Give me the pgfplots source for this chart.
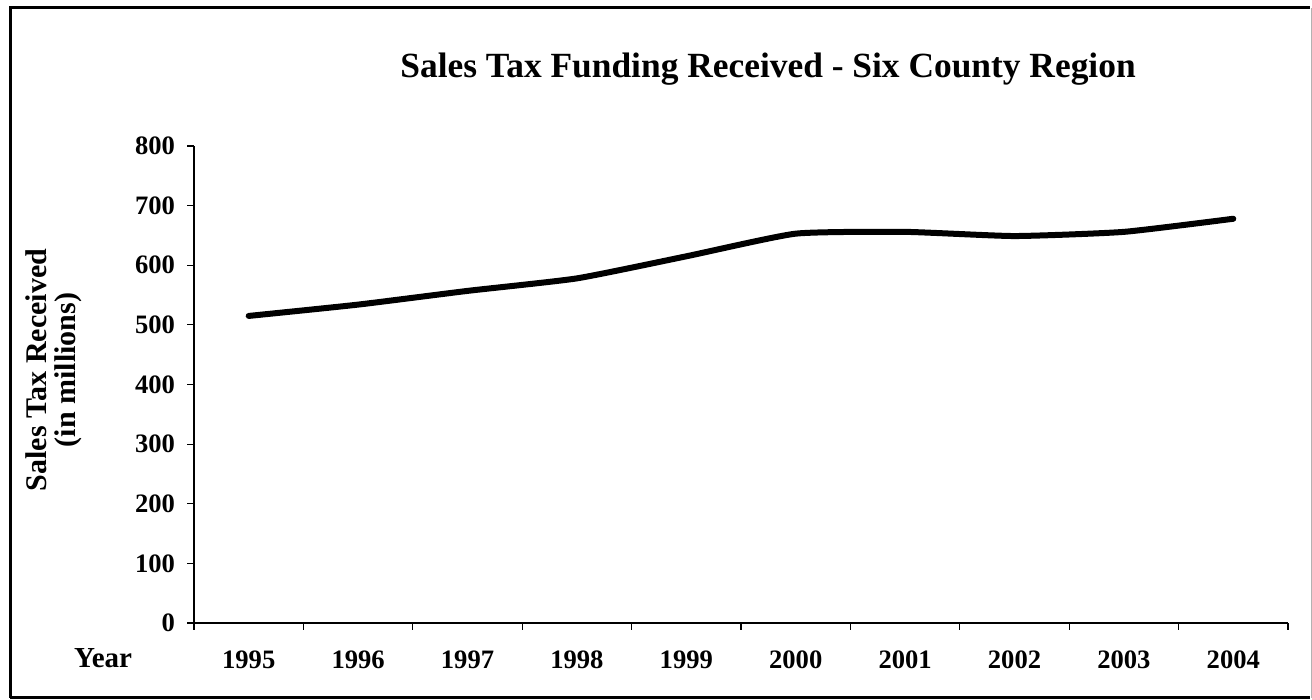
\documentclass[border=0pt]{standalone}
\usepackage{pgfplots}
\pgfplotsset{compat=1.18}
\usepackage{fontspec}
\setmainfont{Liberation Serif}
\begin{document}
\begin{tikzpicture}
\useasboundingbox (0,0) rectangle (656pt,350pt);
% frame
\draw[line width=1.5pt] (5pt,1.2pt) -- (5pt,346pt) -- (655pt,346pt);
\draw[line width=1.5pt] (5pt,1.2pt) -- (655pt,1.2pt);
\draw[line width=0.5pt, gray!60] (655.5pt,1.2pt) -- (655.5pt,346pt);
\begin{axis}[
  at={(97pt,38.5pt)}, anchor=south west,
  scale only axis,
  width=547pt, height=238.5pt,
  xmin=-0.5, xmax=9.5,
  ymin=0, ymax=800,
  axis x line*=bottom, axis y line*=left,
  axis line style={line width=0.6pt},
  xtick={0,...,9},
  xticklabels={1995,1996,1997,1998,1999,2000,2001,2002,2003,2004},
  minor xtick={-0.5,0.5,...,9.5},
  ytick={0,100,...,800},
  minor ytick={0,100,...,800},
  major tick length=0pt,
  minor tick length=3.5pt,
  tick align=outside,
  tick style={line width=0.6pt, black},
  /pgf/number format/assume math mode=true,
  ticklabel style={font=\fontsize{13.3pt}{15pt}\selectfont\bfseries},
  yticklabel style={xshift=-6pt},
  xticklabel style={yshift=-10.5pt},
  clip=false,
]
\addplot[line width=3pt, black, smooth, tension=0.3, line cap=round] coordinates {
 (0,515) (1,534) (2,557) (3,578) (4,615) (5,653) (6,656) (7,649) (8,656) (9,678)
};
\end{axis}
\node[anchor=base west, font=\fontsize{17.7pt}{20pt}\selectfont\bfseries, inner sep=0pt] at (200pt,311pt) {Sales Tax Funding Received - Six County Region};
\node[rotate=90, align=center, font=\fontsize{15pt}{14.5pt}\selectfont\bfseries, inner sep=0pt] at (27pt,165pt) {Sales Tax Received\\(in millions)};
\node[anchor=base, font=\fontsize{14.5pt}{16pt}\selectfont\bfseries, inner sep=0pt] at (51.5pt,16pt) {Year};
\end{tikzpicture}
\end{document}
